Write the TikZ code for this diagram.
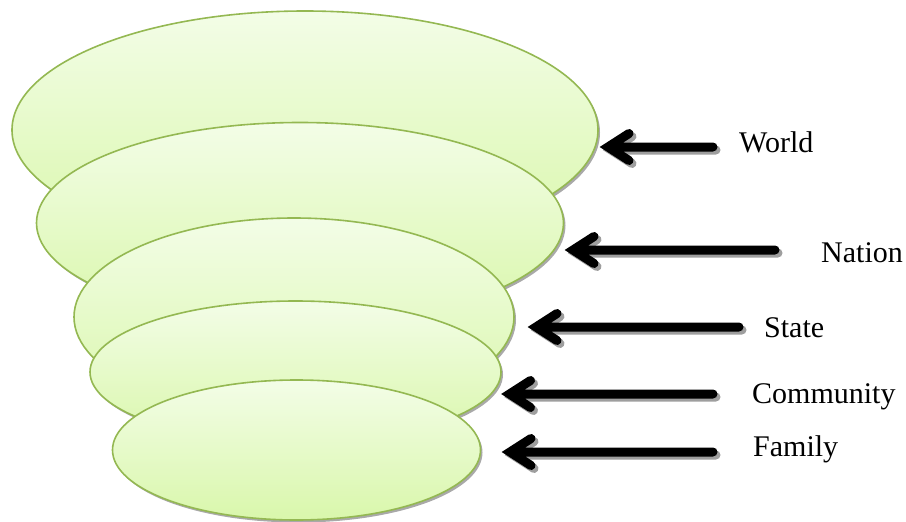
\documentclass[tikz,border=0pt]{standalone}
\usepackage{fontspec}
\setmainfont{Liberation Serif}
\usetikzlibrary{shapes.geometric,shadows,calc}

\definecolor{rimgreen}{HTML}{94B852}
\definecolor{filltop}{HTML}{F3FDE7}
\definecolor{fillbot}{HTML}{D9F7AB}

\tikzset{
  layer/.style 2 args={ellipse, draw=rimgreen, line width=1.6pt,
    top color=filltop, bottom color=fillbot, inner sep=0pt,
    minimum width=#1pt, minimum height=#2pt,
    drop shadow={shadow xshift=2pt, shadow yshift=-2.5pt, fill=black!45, opacity=0.75}},
  lbl/.style={anchor=base west, inner sep=0pt, font=\fontsize{30}{36}\selectfont},
  pointer/.style={line width=9pt, line cap=round, line join=miter,
    to path={(\tikztostart) -- (\tikztotarget)
      ($(\tikztotarget)+(21,-13.5)$) -- (\tikztotarget) -- ($(\tikztotarget)+(21,13.5)$)}},
  pointershade/.style={pointer, draw=black!38, transform canvas={shift={(3pt,-3pt)}}},
}

\begin{document}
\begin{tikzpicture}[x=1pt, y=-1pt]
  \useasboundingbox (0,0) rectangle (906,522);

  % nested levels, outermost drawn first
  \node[layer={586}{238}] (world)     at (305,130)   {};
  \node[layer={527}{201}] (nation)    at (300,223)   {};
  \node[layer={440}{198}] (state)     at (294,317)   {};
  \node[layer={411}{142}] (community) at (295.5,372) {};
  \node[layer={368}{140}] (family)    at (296.5,450) {};

  % labels
  \node[lbl] (world-lbl)     at (739,152) {World};
  \node[lbl] (nation-lbl)    at (821,262) {Nation};
  \node[lbl] (state-lbl)     at (764,337) {State};
  \node[lbl] (community-lbl) at (752,403) {Community};
  \node[lbl] (family-lbl)    at (753,456) {Family};

  % arrow ends
  \coordinate (world-tail)     at (713,147);
  \coordinate (world-tip)      at (608,147);
  \coordinate (nation-tail)    at (775,250);
  \coordinate (nation-tip)     at (573,250);
  \coordinate (state-tail)     at (739,327);
  \coordinate (state-tip)      at (536,327);
  \coordinate (community-tail) at (713,394);
  \coordinate (community-tip)  at (509.5,394);
  \coordinate (family-tail)    at (713,452);
  \coordinate (family-tip)     at (510,452);

  % arrows: shadow first, then the black stroke
  \foreach \lev in {world,nation,state,community,family}{
    \draw[pointershade] (\lev-tail) to (\lev-tip);
    \draw[pointer] (\lev-tail) to (\lev-tip);
  }
\end{tikzpicture}
\end{document}
